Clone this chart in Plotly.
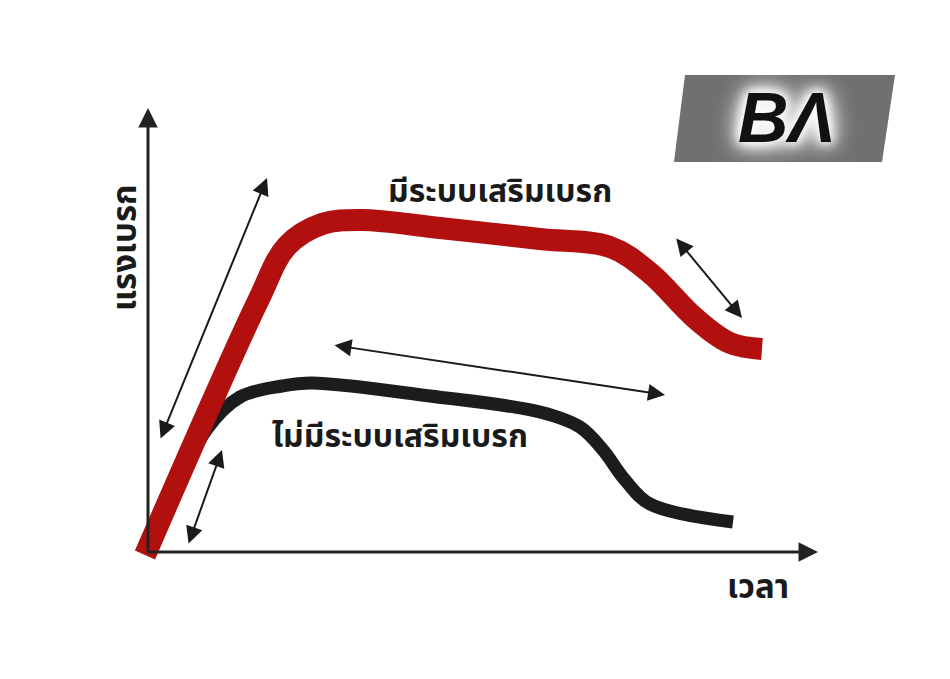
import plotly.graph_objects as go

W, H = 950, 679

# Curves (x = time units, y = force units; pixel-like scale)
red_x = [145, 258, 287, 322, 362, 440, 540, 610, 650, 695, 730, 762]
red_y = [124, 378, 433, 455, 459, 451, 440, 432, 406, 361, 336, 330]
black_x = [150, 207, 240, 282, 312, 430, 540, 580, 603, 625, 650, 733]
black_y = [134, 250, 282, 293, 296, 283, 267, 252, 229, 199, 175, 157]

# Double-headed arrows (start x, start y, end x, end y)
arr_x0 = [160, 188, 333, 675]
arr_y0 = [239, 134, 334, 442]
arr_x1 = [267, 222, 665, 742]
arr_y1 = [501, 229, 284, 361]

# Axes
axis_origin = (148, 127)
axis_x_end = 818
axis_y_end = 571

# Labels
label_with = "มีระบบเสริมเบรก"
label_without = "ไม่มีระบบเสริมเบรก"
label_y = "แรงเบรก"
label_x = "เวลา"
logo_text = "BΛ"

thai_font = "Noto Sans Thai, Noto Sans, Tahoma, sans-serif"
OFF = 8  # page body margin

fig = go.Figure()
fig.add_trace(go.Scatter(x=black_x, y=black_y, mode="lines",
                         line=dict(color="#1c1c1c", width=13, shape="spline", smoothing=1.0),
                         hoverinfo="skip"))
fig.add_trace(go.Scatter(x=red_x, y=red_y, mode="lines",
                         line=dict(color="#b20f0f", width=22, shape="spline", smoothing=1.0),
                         hoverinfo="skip"))

ann = []
ox, oy = axis_origin
ann.append(dict(x=axis_x_end, y=oy, ax=ox - 2, ay=oy, xref="x", yref="y", axref="x", ayref="y",
                text="", showarrow=True, arrowhead=2, arrowsize=1.3, arrowwidth=3, arrowcolor="#222"))
ann.append(dict(x=ox, y=axis_y_end, ax=ox, ay=oy - 2, xref="x", yref="y", axref="x", ayref="y",
                text="", showarrow=True, arrowhead=2, arrowsize=1.3, arrowwidth=3, arrowcolor="#222"))
for x0, y0, x1, y1 in zip(arr_x0, arr_y0, arr_x1, arr_y1):
    ann.append(dict(x=x1, y=y1, ax=x0, ay=y0, xref="x", yref="y", axref="x", ayref="y",
                    text="", showarrow=True, arrowhead=2, startarrowhead=2, arrowside="end+start",
                    arrowsize=1.7, startarrowsize=1.7, arrowwidth=2, arrowcolor="#1a1a1a"))

ann.append(dict(x=500, y=487, xref="x", yref="y", text="<b>" + label_with + "</b>", showarrow=False,
                font=dict(family=thai_font, size=32, color="#1a1a1a")))
ann.append(dict(x=400, y=242, xref="x", yref="y", text="<b>" + label_without + "</b>", showarrow=False,
                font=dict(family=thai_font, size=32, color="#1a1a1a")))
ann.append(dict(x=126, y=431, xref="x", yref="y", text="<b>" + label_y + "</b>", showarrow=False, textangle=-90,
                font=dict(family=thai_font, size=33, color="#1a1a1a")))
ann.append(dict(x=758, y=91, xref="x", yref="y", text="<b>" + label_x + "</b>", showarrow=False,
                font=dict(family=thai_font, size=33, color="#1a1a1a")))
ann.append(dict(x=786, y=561, xref="x", yref="y", text="<b><i>" + logo_text + "</i></b>", showarrow=False,
                font=dict(family="Liberation Sans, Arial, sans-serif", size=70, color="#111",
                          shadow="0px 0px 10px white, 0px 0px 14px white, 0px 0px 18px white, 0px 0px 24px white, 0px 0px 30px white")))

shapes = [dict(type="path", xref="x", yref="y",
               path="M 685 604 L 895 604 L 882 517 L 674 517 Z",
               fillcolor="#707070", line=dict(width=0), layer="below")]

fig.update_layout(
    width=W, height=H, margin=dict(l=0, r=0, t=0, b=0),
    paper_bgcolor="white", plot_bgcolor="white", showlegend=False,
    xaxis=dict(range=[OFF, W + OFF], visible=False, fixedrange=True),
    yaxis=dict(range=[-OFF, H - OFF], visible=False, fixedrange=True),
    annotations=ann, shapes=shapes,
)
fig.write_html("out.html")
